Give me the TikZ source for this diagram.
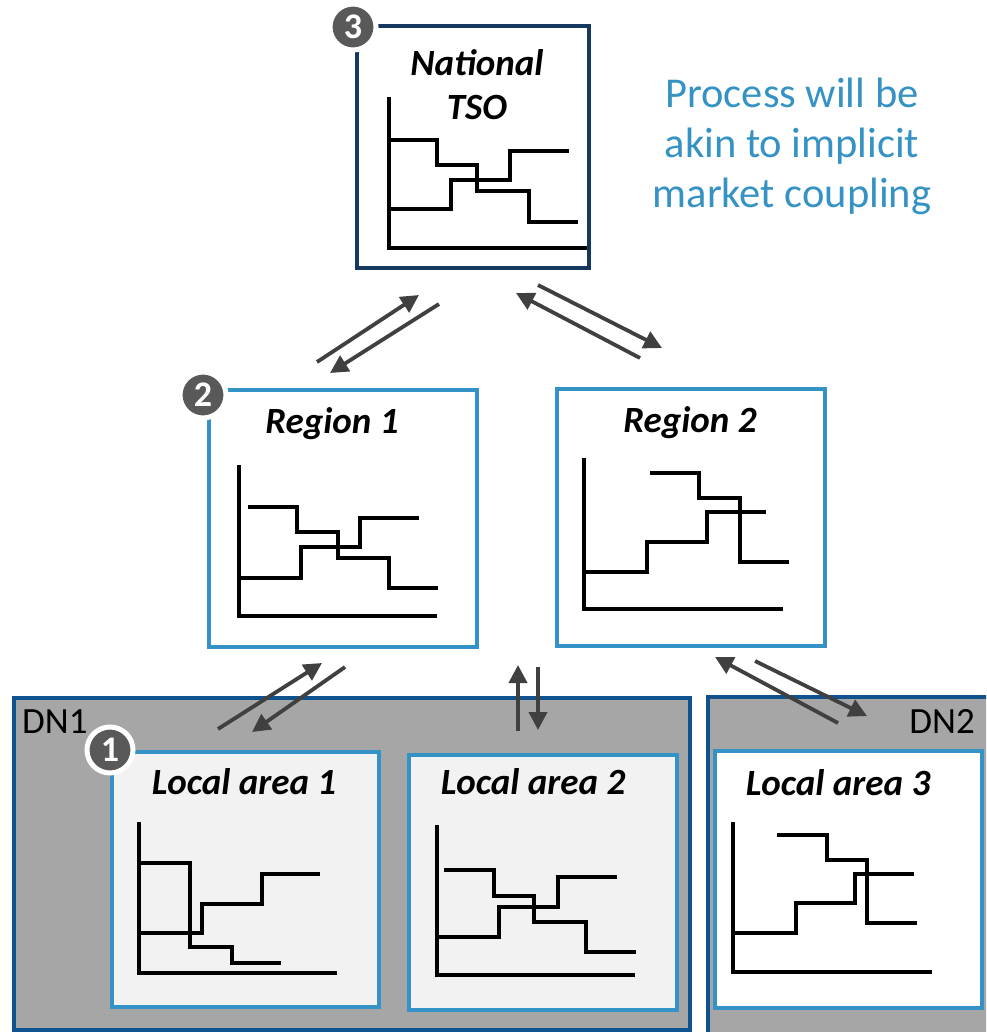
\documentclass[tikz,border=0pt]{standalone}
\usepackage{fontspec}
\setmainfont{Carlito}
\usetikzlibrary{arrows.meta}
\definecolor{navy}{RGB}{22,56,96}
\definecolor{rblue}{RGB}{52,146,198}
\definecolor{dnblue}{RGB}{16,82,142}
\definecolor{dngrey}{RGB}{166,166,166}
\definecolor{lagrey}{RGB}{242,242,242}
\definecolor{badgegrey}{RGB}{89,89,89}
\definecolor{arrgrey}{RGB}{64,64,64}
\definecolor{txtblue}{RGB}{53,146,196}
\tikzset{
  boxstyle/.style={draw, line width=4pt, rectangle, inner sep=0pt, anchor=north west, fill=white},
  tsobox/.style={boxstyle, draw=navy},
  regbox/.style={boxstyle, draw=rblue},
  labox/.style={boxstyle, draw=rblue, fill=lagrey},
  dnbox/.style={boxstyle, draw=dnblue, fill=dngrey},
  titletext/.style={anchor=base, inner sep=0pt, font=\fontsize{37}{42}\selectfont\bfseries\itshape},
  dntext/.style={anchor=base, inner sep=0pt, font=\fontsize{37}{42}\selectfont},
  bluetext/.style={anchor=base, inner sep=0pt, text=txtblue, font=\fontsize{42.5}{50}\selectfont},
  badge/.style={circle, fill=badgegrey, draw=white, line width=5pt, minimum size=46pt, inner sep=0pt, text=white, font=\fontsize{36}{36}\selectfont\bfseries},
  chart/.style={line width=3.5pt, black},
  arr/.style={draw=arrgrey, line width=3.8pt, -{Triangle[length=18pt,width=18pt]}},
}
\begin{document}
\begin{tikzpicture}[x=1pt,y=-1pt]
\useasboundingbox (0,0) rectangle (986,1032);
\clip (0,0) rectangle (986,1032);

% ---------- TSO ----------
\node[tsobox, minimum width=232pt, minimum height=242pt] (tso) at (355,24) {};
\node[titletext] (tsot1) at (477,76) {National};
\node[titletext] (tsot2) at (477,120) {TSO};
\draw[chart] (389,97) -- (389,248) -- (587,248);
\draw[chart] (389,140) -- (437,140) -- (437,165) -- (477,165) -- (477,191) -- (529,191) -- (529,222) -- (578,222);
\draw[chart] (389,209) -- (451,209) -- (451,180) -- (510,180) -- (510,151) -- (569,151);
\node[badge] (b3) at (353,27) {3};

% ---------- text ----------
\node[bluetext] (t1) at (792,108) {Process will be};
\node[bluetext] (t2) at (792,158) {akin to implicit};
\node[bluetext] (t3) at (792,208) {market coupling};

% ---------- Region 1 ----------
\node[regbox, minimum width=268pt, minimum height=257pt] (r1) at (207,388) {};
\node[titletext] (r1t) at (332,433) {Region 1};
\draw[chart] (239,465) -- (239,616) -- (437,616);
\draw[chart] (248,507) -- (297,507) -- (297,532) -- (338,532) -- (338,558) -- (389,558) -- (389,588) -- (438,588);
\draw[chart] (239,578) -- (301,578) -- (301,547) -- (360,547) -- (360,518) -- (419,518);
\node[badge] (b2) at (203,395) {2};

% ---------- Region 2 ----------
\node[regbox, minimum width=268pt, minimum height=257pt] (r2) at (555,387) {};
\node[titletext] (r2t) at (690,432) {Region 2};
\draw[chart] (584,458) -- (584,609) -- (783,609);
\draw[chart] (650,473) -- (699,473) -- (699,498) -- (740,498) -- (740,562) -- (789,562);
\draw[chart] (584,572) -- (647,572) -- (647,542) -- (707,542) -- (707,512) -- (766,512);

% ---------- DN1 ----------
\node[dnbox, minimum width=676pt, minimum height=332pt] (dn1) at (12,696) {};
\node[dntext, anchor=base west] (dn1t) at (22,733) {DN1};

% Local area 1
\node[labox, minimum width=267pt, minimum height=255pt] (la1) at (110,750) {};
\node[titletext] (la1t) at (244,794) {Local area 1};
\draw[chart] (139,822) -- (139,973) -- (337,973);
\draw[chart] (139,863) -- (190,863) -- (190,947) -- (232,947) -- (232,963) -- (281,963);
\draw[chart] (139,933) -- (202,933) -- (202,904) -- (262,904) -- (262,874) -- (320,874);
\node[badge] (b1) at (110,750) {1};

% Local area 2
\node[labox, minimum width=268pt, minimum height=255pt] (la2) at (407,753) {};
\node[titletext] (la2t) at (533,794) {Local area 2};
\draw[chart] (437,825) -- (437,975) -- (635,975);
\draw[chart] (444,870) -- (494,870) -- (494,896) -- (534,896) -- (534,922) -- (586,922) -- (586,952) -- (636,952);
\draw[chart] (437,937) -- (499,937) -- (499,907) -- (558,907) -- (558,877) -- (617,877);

% ---------- DN2 ----------
\node[dnbox, minimum width=320pt, minimum height=360pt] (dn2) at (706,695) {};
\node[dntext, anchor=base east] (dn2t) at (975,733) {DN2};

% Local area 3
\node[regbox, minimum width=267pt, minimum height=257pt] (la3) at (713,749) {};
\node[titletext] (la3t) at (838,795) {Local area 3};
\draw[chart] (733,822) -- (733,972) -- (932,972);
\draw[chart] (777,835) -- (827,835) -- (827,860) -- (867,860) -- (867,923) -- (917,923);
\draw[chart] (733,933) -- (796,933) -- (796,903) -- (855,903) -- (855,874) -- (914,874);

% ---------- arrows ----------
\coordinate (a1s) at (317,362); \coordinate (a1e) at (419,295);
\coordinate (a2s) at (439,304); \coordinate (a2e) at (330,373);
\coordinate (a3s) at (640,358); \coordinate (a3e) at (516,293);
\coordinate (a4s) at (538,285); \coordinate (a4e) at (662,348);
\coordinate (a5s) at (218,729); \coordinate (a5e) at (322,663);
\coordinate (a6s) at (345,667); \coordinate (a6e) at (252,732);
\coordinate (a7s) at (518,731); \coordinate (a7e) at (518,665);
\coordinate (a8s) at (538,667); \coordinate (a8e) at (538,730);
\coordinate (a9s) at (838,723); \coordinate (a9e) at (715,657);
\coordinate (a10s) at (755,661); \coordinate (a10e) at (867,716);
\draw[arr] (a1s) -- (a1e);
\draw[arr] (a2s) -- (a2e);
\draw[arr] (a3s) -- (a3e);
\draw[arr] (a4s) -- (a4e);
\draw[arr] (a5s) -- (a5e);
\draw[arr] (a6s) -- (a6e);
\draw[arr] (a7s) -- (a7e);
\draw[arr] (a8s) -- (a8e);
\draw[arr] (a9s) -- (a9e);
\draw[arr] (a10s) -- (a10e);
\end{tikzpicture}
\end{document}
